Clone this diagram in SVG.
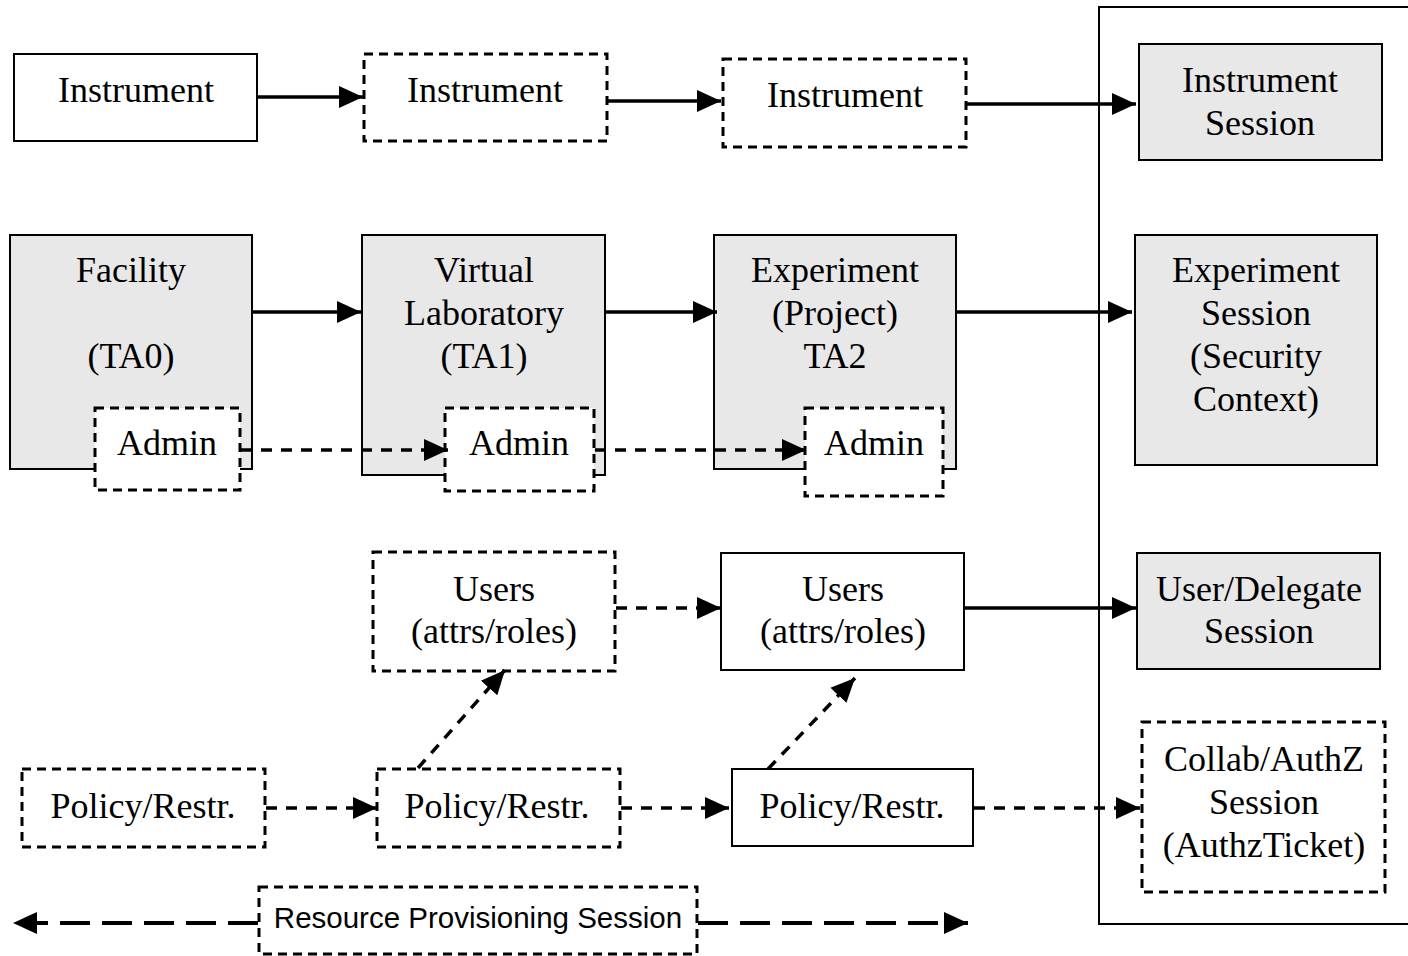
<svg xmlns="http://www.w3.org/2000/svg" width="1408" height="956" viewBox="0 0 1408 956">
<style>
  .box{fill:#fff;stroke:#000;stroke-width:2}
  .gray{fill:#e8e8e8;stroke:#000;stroke-width:2}
  .dbox{fill:#fff;stroke:#000;stroke-width:3;stroke-dasharray:9 6}
  .t{font-family:"Liberation Serif","Times New Roman",serif;font-size:36px;text-anchor:middle;fill:#000}
  .s{font-family:"Liberation Sans",Arial,sans-serif;font-size:29.5px;text-anchor:middle;fill:#000}
  .a{fill:none;stroke:#000;stroke-width:3.5;marker-end:url(#ah)}
  .da{fill:none;stroke:#000;stroke-width:3.5;stroke-dasharray:11 9;marker-end:url(#ah)}
  .big{fill:none;stroke:#000;stroke-width:4;stroke-dasharray:30 12}
</style>
<defs>
  <marker id="ah" markerUnits="userSpaceOnUse" markerWidth="26" markerHeight="26" viewBox="0 0 26 26" refX="24" refY="13" orient="auto">
    <path d="M0,2 L24,13 L0,24 Z" fill="#000"/>
  </marker>
  <marker id="as" markerUnits="userSpaceOnUse" markerWidth="26" markerHeight="26" viewBox="0 0 26 26" refX="0" refY="13" orient="auto">
    <path d="M24,2 L0,13 L24,24 Z" fill="#000"/>
  </marker>
</defs>
<rect width="1408" height="956" fill="#fff"/>
<g id="container"><path d="M1412,7 H1099 V924 H1412" fill="none" stroke="#000" stroke-width="2"/></g>

<g id="instrument1"><rect class="box" x="14" y="54" width="243" height="87"/><text class="t" x="136" y="102">Instrument</text></g>
<g id="instrument2"><rect class="dbox" x="364" y="54" width="243" height="87"/><text class="t" x="485" y="102">Instrument</text></g>
<g id="instrument3"><rect class="dbox" x="723" y="59" width="243" height="88"/><text class="t" x="845" y="107">Instrument</text></g>
<g id="instrumentSession"><rect class="gray" x="1139" y="44" width="243" height="116"/><text class="t" x="1260" y="92">Instrument</text><text class="t" x="1260" y="135">Session</text></g>

<g id="facility"><rect class="gray" x="10" y="235" width="242" height="234"/><text class="t" x="131" y="282">Facility</text><text class="t" x="131" y="368">(TA0)</text></g>
<g id="virtualLab"><rect class="gray" x="362" y="235" width="243" height="240"/><text class="t" x="484" y="282">Virtual</text><text class="t" x="484" y="325">Laboratory</text><text class="t" x="484" y="368">(TA1)</text></g>
<g id="experiment"><rect class="gray" x="714" y="235" width="242" height="234"/><text class="t" x="835" y="282">Experiment</text><text class="t" x="835" y="325">(Project)</text><text class="t" x="835" y="368">TA2</text></g>
<g id="experimentSession"><rect class="gray" x="1135" y="235" width="242" height="230"/><text class="t" x="1256" y="282">Experiment</text><text class="t" x="1256" y="325">Session</text><text class="t" x="1256" y="368">(Security</text><text class="t" x="1256" y="411">Context)</text></g>

<g id="admin1"><rect class="dbox" x="95" y="408" width="145" height="82"/><text class="t" x="167" y="455">Admin</text></g>
<g id="admin2"><rect class="dbox" x="445" y="408" width="149" height="83"/><text class="t" x="519" y="455">Admin</text></g>
<g id="admin3"><rect class="dbox" x="805" y="408" width="138" height="88"/><text class="t" x="874" y="455">Admin</text></g>

<g id="users1"><rect class="dbox" x="373" y="552" width="242" height="119"/><text class="t" x="494" y="601">Users</text><text class="t" x="494" y="643">(attrs/roles)</text></g>
<g id="users2"><rect class="box" x="721" y="553" width="243" height="117"/><text class="t" x="843" y="601">Users</text><text class="t" x="843" y="643">(attrs/roles)</text></g>
<g id="userSession"><rect class="gray" x="1137" y="553" width="243" height="116"/><text class="t" x="1259" y="601">User/Delegate</text><text class="t" x="1259" y="643">Session</text></g>

<g id="policy1"><rect class="dbox" x="22" y="769" width="243" height="78"/><text class="t" x="143" y="818">Policy/Restr.</text></g>
<g id="policy2"><rect class="dbox" x="377" y="769" width="243" height="78"/><text class="t" x="497" y="818">Policy/Restr.</text></g>
<g id="policy3"><rect class="box" x="732" y="769" width="241" height="77"/><text class="t" x="852" y="818">Policy/Restr.</text></g>
<g id="collabSession"><rect class="dbox" x="1142" y="722" width="243" height="170"/><text class="t" x="1264" y="771">Collab/AuthZ</text><text class="t" x="1264" y="814">Session</text><text class="t" x="1264" y="857">(AuthzTicket)</text></g>

<g id="resourceSession"><rect class="dbox" x="259" y="887" width="438" height="67"/><text class="s" x="478" y="928">Resource Provisioning Session</text></g>

<g id="connectors">
  <path class="a" d="M257,97 H363"/>
  <path class="a" d="M608,101 H721"/>
  <path class="a" d="M966,104 H1136"/>
  <path class="a" d="M253,312 H361"/>
  <path class="a" d="M606,312 H717"/>
  <path class="a" d="M957,312 H1132"/>
  <path class="da" d="M241,450 H448"/>
  <path class="da" d="M595,450 H806"/>
  <path class="da" d="M616,608 H721"/>
  <path class="a" d="M965,608 H1136"/>
  <path class="da" d="M266,808 H377"/>
  <path class="da" d="M621,808 H729"/>
  <path class="da" d="M974,808 H1140"/>
  <path class="da" d="M418,768 L505,670"/>
  <path class="da" d="M768,769 L855,678"/>
  <path class="big" d="M258,923 H13" marker-end="url(#ah)"/>
  <path class="big" d="M698,923 H968" marker-end="url(#ah)"/>
</g>
</svg>
